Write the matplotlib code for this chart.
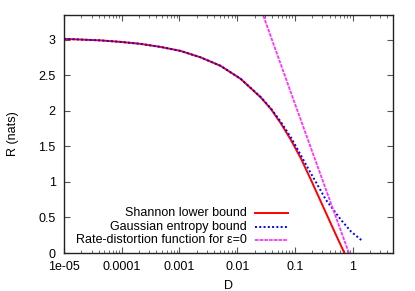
import numpy as np
import matplotlib
matplotlib.use("Agg")
import matplotlib.pyplot as plt
from matplotlib.ticker import LogLocator, NullFormatter

plt.rcParams["font.family"] = ["Liberation Sans", "DejaVu Sans"]
plt.rcParams["font.size"] = 9

# Werte
shannon_D = [1e-5, 4.23e-5, 9.42e-5, 2.1e-4, 4.68e-4, 1.04e-3, 2.32e-3, 5.16e-3,
             1.15e-2, 2.56e-2, 3.83e-2, 5.71e-2, 8.52e-2, 0.127, 0.19, 0.283,
             0.496, 0.72]
shannon_R = [3.014, 2.993, 2.972, 2.944, 2.901, 2.845, 2.754, 2.634,
             2.451, 2.19, 2.028, 1.824, 1.592, 1.331, 1.028, 0.718,
             0.282, 0.0]

gauss_D = [1e-5, 4.23e-5, 9.42e-5, 2.1e-4, 4.68e-4, 1.04e-3, 2.32e-3, 5.16e-3,
           1.15e-2, 2.56e-2, 3.83e-2, 5.71e-2, 8.52e-2, 0.1127, 0.175, 0.246,
           0.346, 0.423, 0.631, 0.942, 1.41]
gauss_R = [3.014, 2.993, 2.972, 2.944, 2.901, 2.845, 2.754, 2.634,
           2.451, 2.195, 2.035, 1.845, 1.627, 1.451, 1.169, 0.958,
           0.746, 0.652, 0.465, 0.30, 0.183]

rd_D = [0.025, 0.0923, 0.861]
rd_R = [3.465, 2.18, 0.0]

xticks = [1e-5, 1e-4, 1e-3, 1e-2, 1e-1, 1]
xlabels = ["1e-05", "0.0001", "0.001", "0.01", "0.1", "1"]
yticks = [0, 0.5, 1, 1.5, 2, 2.5, 3]
ylabels = ["0", "0.5", "1", "1.5", "2", "2.5", "3"]

labels = ["Shannon lower bound", "Gaussian entropy bound",
          "Rate-distortion function for ε=0"]

fig = plt.figure(figsize=(4.15, 2.91), dpi=100)
ax = fig.add_axes([64/415, 38/291, 329/415, 238/291])

line_styles = [
    dict(color="red", lw=1.4, ls="-"),
    dict(color="blue", lw=1.4, ls=(0, (1, 1.2))),
    dict(color="#ff33ff", lw=1.3, ls=(0, (2, 0.6))),
]

ax.plot(shannon_D, shannon_R, **line_styles[0])
ax.plot(gauss_D, gauss_R, **line_styles[1])
ax.plot(rd_D, rd_R, **line_styles[2])

ax.set_xscale("log")
ax.set_xlim(1e-5, 5)
ax.set_ylim(0, 3.35)
ax.set_xticks(xticks)
ax.set_xticklabels(xlabels)
ax.xaxis.set_minor_locator(LogLocator(base=10, subs=np.arange(2, 10)))
ax.xaxis.set_minor_formatter(NullFormatter())
ax.set_yticks(yticks)
ax.set_yticklabels(ylabels)
ax.tick_params(which="major", direction="in", length=4, top=True, right=True,
               color="#555555")
ax.tick_params(axis="x", which="major", pad=6)
ax.tick_params(axis="y", which="major", pad=6)
ax.tick_params(which="minor", direction="in", length=2, top=True, right=True,
               color="#555555")
for sp in ax.spines.values():
    sp.set_linewidth(1.0)
    sp.set_color("#222222")

ax.set_xlabel("D", labelpad=5)
ax.set_ylabel("R (nats)", labelpad=14)

# Legende im gnuplot-Stil (Text rechtsbündig, Linie rechts)
rows = [0.168, 0.109, 0.053]
for lab, y, st in zip(labels, rows, line_styles):
    ax.text(0.556, y, lab, transform=ax.transAxes, ha="right", va="center")
    ax.plot([0.581, 0.681], [y, y], transform=ax.transAxes, **st)

fig.savefig("out.png", dpi=100)
